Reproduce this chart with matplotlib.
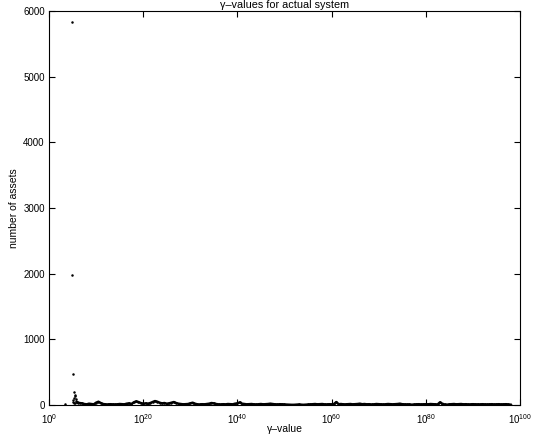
import numpy as np
import matplotlib
matplotlib.use('Agg')
from matplotlib import pyplot as plt
from matplotlib.ticker import NullLocator, FixedLocator

plt.rcParams['font.family'] = ['Liberation Sans', 'DejaVu Sans']
plt.rcParams['mathtext.fontset'] = 'custom'
plt.rcParams['mathtext.rm'] = 'Liberation Sans'
plt.rcParams['mathtext.it'] = 'Liberation Sans:italic'

# gamma exponents (log10) and asset counts near the main spike
spike_exp = [3.4, 4.9, 4.9, 5.1, 5.4, 5.5, 5.6, 5.3, 5.7, 5.2, 5.8, 6.0, 5.0, 5.6, 6.2, 5.4]
spike_cnt = [15, 5830, 1980, 470, 200, 160, 130, 110, 90, 75, 60, 50, 45, 35, 30, 25]

# background counts, every half decade from 10^6 to 10^98
floor_start, floor_step = 6.0, 0.5
floor_cnt = [
    40, 30, 25, 15, 10, 20, 15, 10, 35, 50, 30, 15, 10, 8, 12, 10, 8, 10, 15, 12,
    10, 20, 25, 15, 40, 55, 45, 30, 20, 25, 20, 30, 45, 60, 50, 35, 25, 30, 20, 25,
    35, 45, 30, 20, 15, 10, 12, 15, 25, 35, 20, 10, 8, 12, 10, 15, 20, 30, 25, 15,
    10, 8, 12, 10, 15, 12, 10, 20, 25, 40, 20, 15, 10, 12, 15, 10, 8, 12, 15, 10,
    12, 15, 20, 15, 10, 8, 12, 10, 8, 5, 5, 3, 3, 5, 8, 5, 3, 5, 8, 10,
    12, 15, 10, 12, 15, 10, 8, 12, 10, 15, 45, 12, 15, 10, 10, 12, 15, 10, 12, 15,
    20, 12, 15, 10, 12, 8, 10, 15, 12, 10, 8, 12, 15, 12, 10, 12, 15, 20, 12, 10,
    8, 10, 5, 8, 10, 12, 8, 10, 12, 10, 15, 12, 10, 8, 40, 20, 8, 5, 10, 12,
    15, 10, 12, 15, 10, 12, 8, 10, 12, 10, 10, 8, 12, 10, 8, 10, 12, 8, 10, 12,
    8, 10, 12, 8, 5,
]

xtick_exp = [0, 20, 40, 60, 80, 100]
ytick_vals = [0, 1000, 2000, 3000, 4000, 5000, 6000]

floor_exp = floor_start + floor_step * np.arange(len(floor_cnt))

fig = plt.figure(figsize=(5.37, 4.37), dpi=100)
ax = fig.add_axes([0.0912, 0.0732, 0.8771, 0.9016])

ax.plot(10.0 ** floor_exp, floor_cnt, '-', color='k', linewidth=1.8)
ax.plot(10.0 ** floor_exp, floor_cnt, 'o', color='k', markersize=1.8, markeredgewidth=0)
ax.plot(10.0 ** np.array(spike_exp), spike_cnt, 'o', color='k', markersize=1.8,
        markeredgewidth=0)

ax.set_xscale('log')
ax.set_xlim(1e0, 1e100)
ax.set_ylim(0, 6000)
ax.xaxis.set_major_locator(FixedLocator([10.0 ** e for e in xtick_exp]))
ax.set_xticklabels([r'$10^{%d}$' % e for e in xtick_exp])
ax.xaxis.set_minor_locator(NullLocator())
ax.set_yticks(ytick_vals)
ax.set_yticklabels([str(v) for v in ytick_vals])

ax.tick_params(direction='in', length=4, width=0.8, labelsize=7,
               top=True, right=True, pad=3)
ax.tick_params(axis='x', pad=5)
for s in ax.spines.values():
    s.set_linewidth(0.8)

ax.set_title('\u03b3\u2013values for actual system', fontsize=7.8, pad=2)
ax.set_xlabel('\u03b3\u2013value', fontsize=7.5, labelpad=-1)
ax.set_ylabel('number of assets', fontsize=7.5, labelpad=3)

fig.savefig('out.png', dpi=100)
